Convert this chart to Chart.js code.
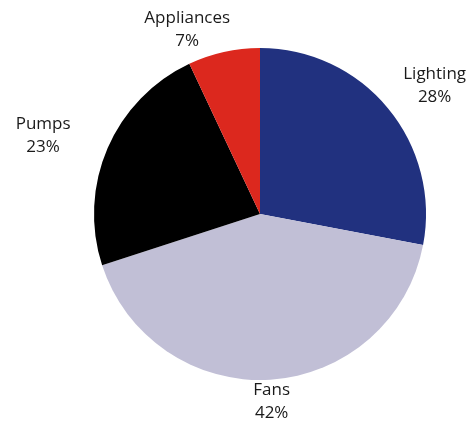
<!DOCTYPE html>
<html>
<head>
<meta charset="utf-8">
<script src="https://cdn.jsdelivr.net/npm/chart.js@4/dist/chart.umd.min.js"></script>
<style>
html,body{margin:0;padding:0;background:#fff;}
#wrap{width:468px;height:426px;position:relative;}
</style>
</head>
<body>
<div id="wrap"><canvas id="c" width="468" height="426"></canvas></div>
<script>
const categories = ["Lighting", "Fans", "Pumps", "Appliances"];
const shares = [28, 42, 23, 7];
const colors = ["#21317f", "#c1bfd6", "#000000", "#dc281e"];
const labelText = ["28%", "42%", "23%", "7%"];

const outsideLabels = {
  id: 'outsideLabels',
  afterDraw(chart) {
    const ctx = chart.ctx;
    const meta = chart.getDatasetMeta(0);
    ctx.save();
    ctx.font = '17px "Open Sans", "Noto Sans", sans-serif';
    ctx.fillStyle = '#1a1a1a';
    ctx.textAlign = 'center';
    ctx.textBaseline = 'middle';
    const offsets = [
      {dx: 19, dy: 1},
      {dx: 0, dy: 3},
      {dx: -26, dy: 5},
      {dx: -30, dy: 7}
    ];
    meta.data.forEach((arc, i) => {
      const p = arc.getProps(['x','y','startAngle','endAngle','outerRadius'], true);
      const mid = (p.startAngle + p.endAngle) / 2;
      const r = p.outerRadius + [36, 20, 42, 30][i];
      let x = p.x + Math.cos(mid) * r + offsets[i].dx;
      let y = p.y + Math.sin(mid) * r + offsets[i].dy;
      ctx.fillText(categories[i], x, y - 12);
      ctx.fillText(labelText[i], x, y + 11);
    });
    ctx.restore();
  }
};

new Chart(document.getElementById('c'), {
  type: 'pie',
  data: {
    labels: categories,
    datasets: [{
      data: shares,
      backgroundColor: colors,
      borderWidth: 0
    }]
  },
  options: {
    responsive: false,
    animation: false,
    layout: { padding: { left: 94, right: 42, top: 48, bottom: 46 } },
    plugins: { legend: { display: false }, tooltip: { enabled: false } }
  },
  plugins: [outsideLabels]
});
</script>
</body>
</html>
